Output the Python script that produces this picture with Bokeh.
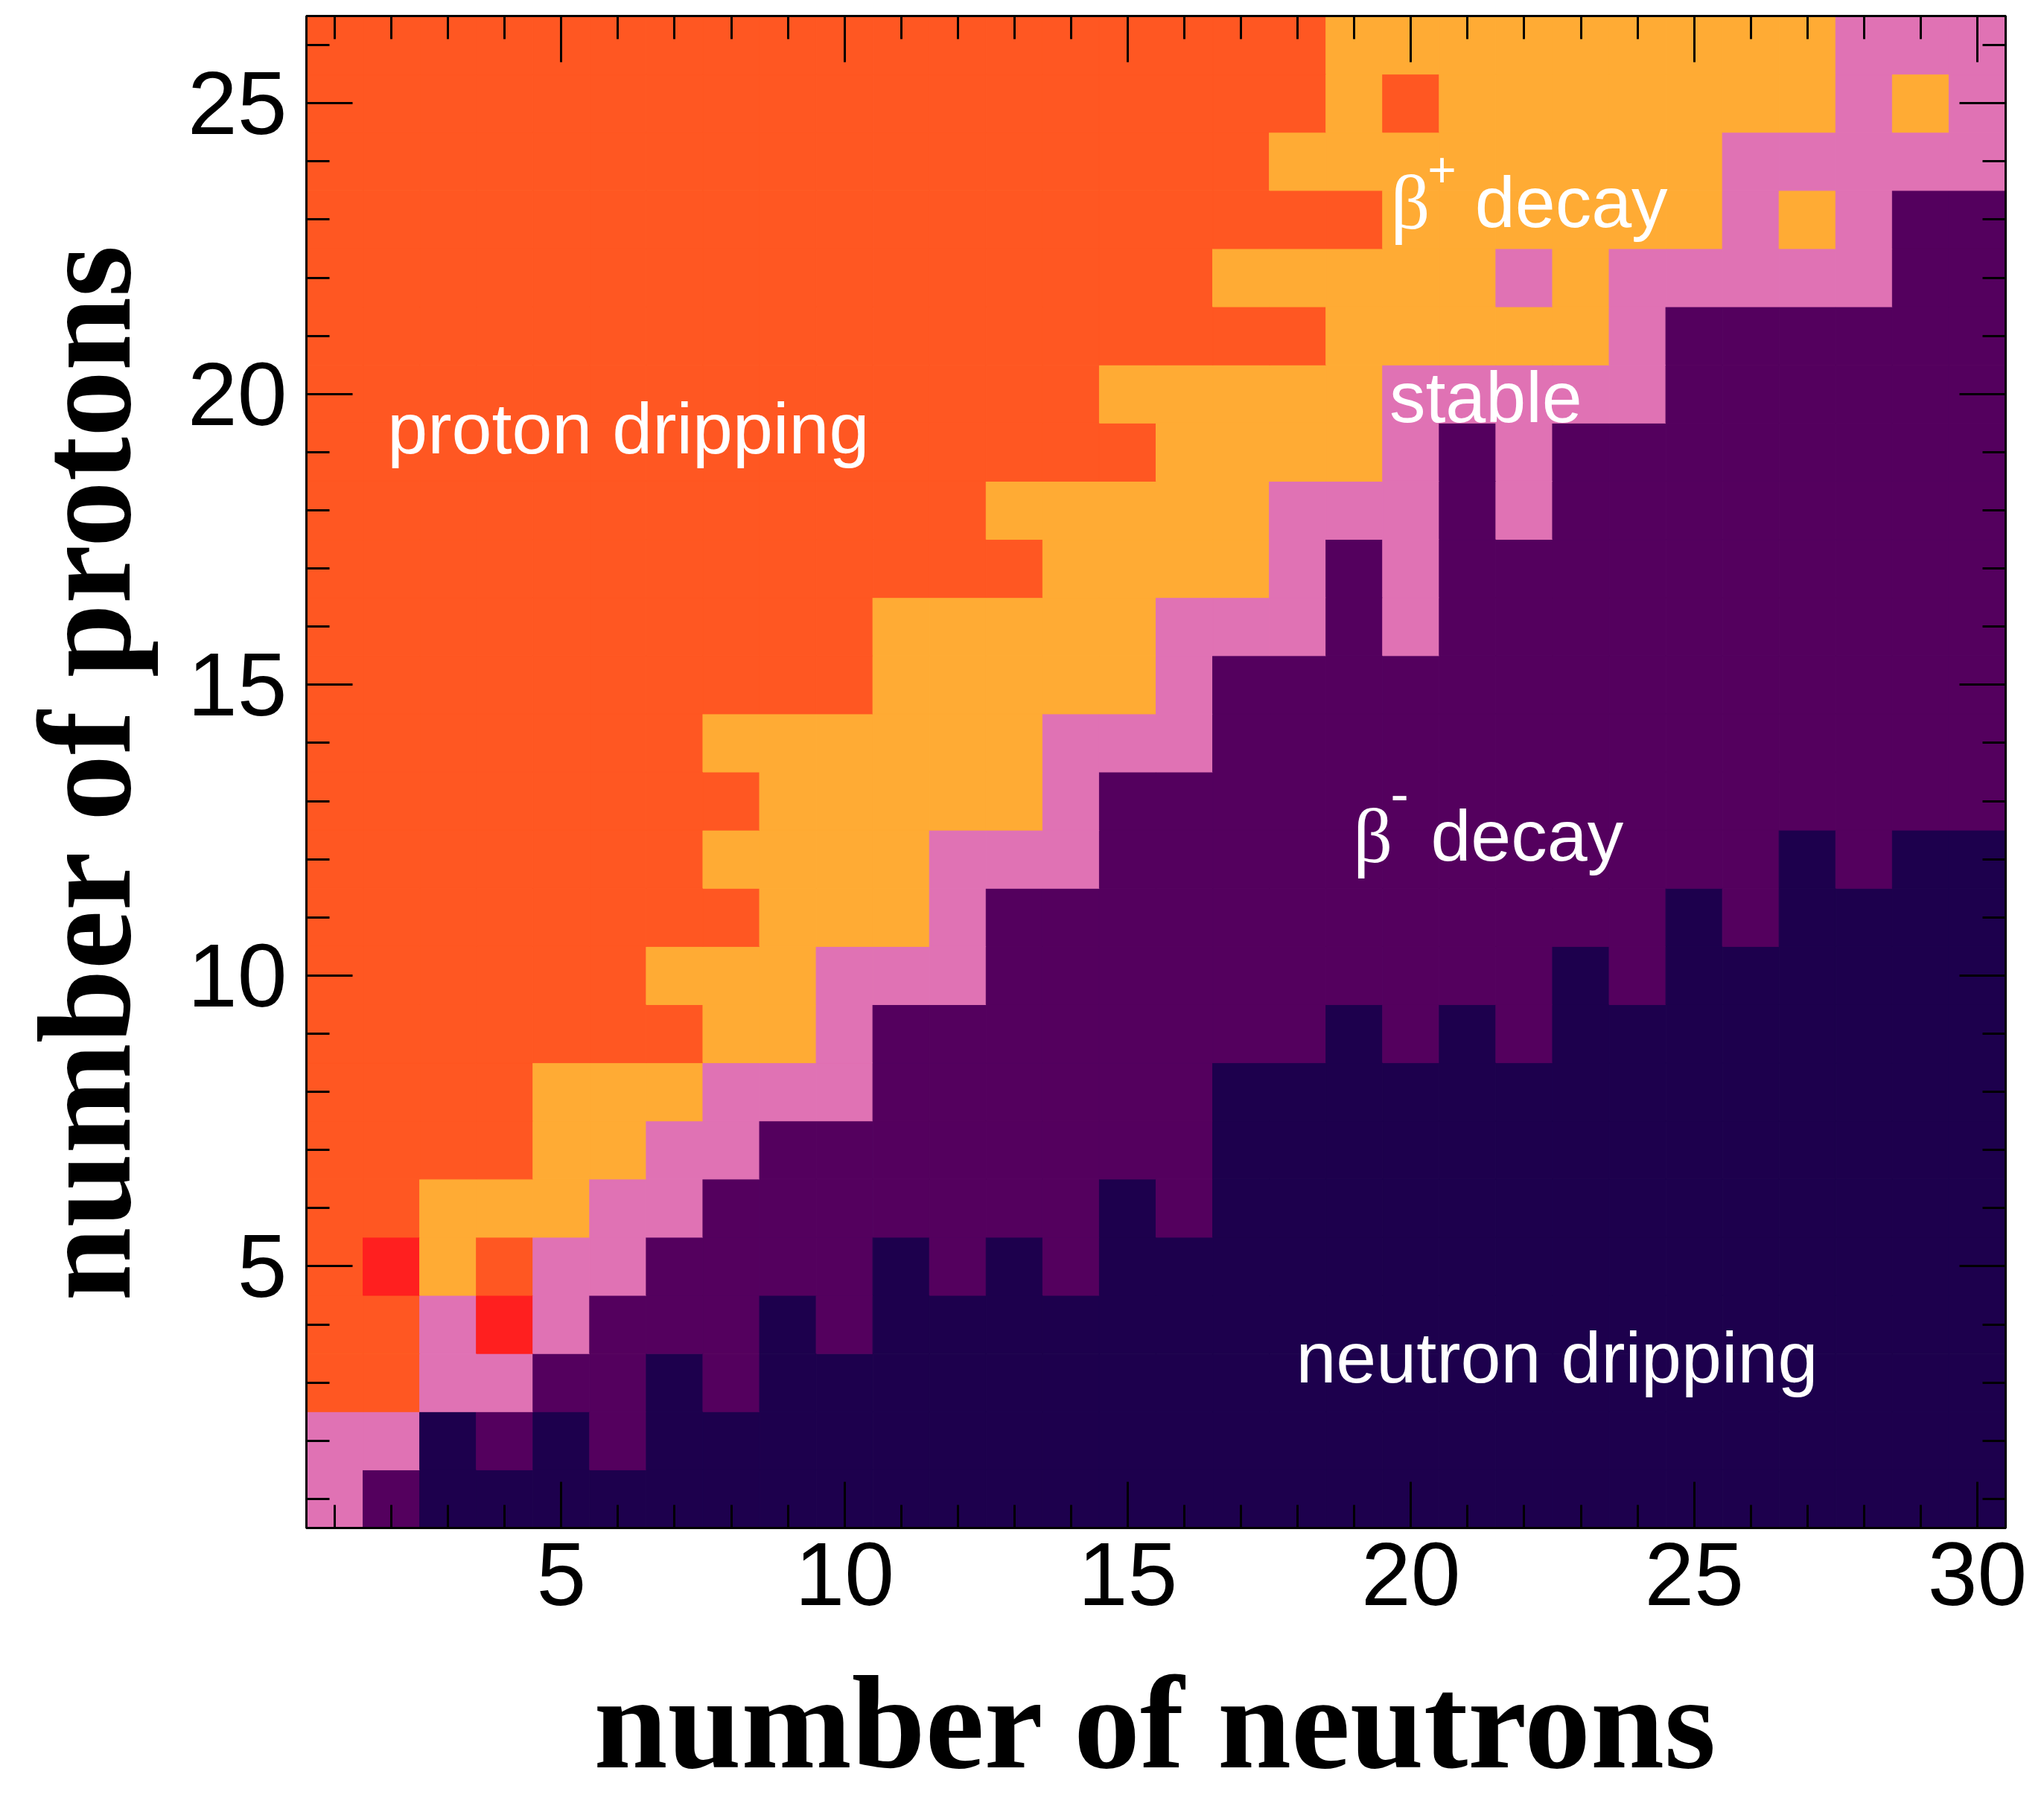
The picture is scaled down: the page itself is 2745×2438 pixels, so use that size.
from bokeh.plotting import figure
from bokeh.models import (ColumnDataSource, LinearAxis, SingleIntervalTicker, Range1d,
                          CustomJSTickFormatter, Label)
from bokeh.embed import file_html
from bokeh.resources import INLINE

# ---------------- data ----------------
neutron_numbers = list(range(1, 31))   # x: number of neutrons
proton_numbers = list(range(1, 27))    # y: number of protons

# decay class of each nucleus, one string per proton number (Z = 1 first),
# one letter per neutron number (N = 1 ... 30)
# N = neutron dripping, M = beta- decay, S = stable, P = beta+ decay,
# D = proton dripping, A = other (red cells)
cell_rows = [
    "SMNNNNNNNNNNNNNNNNNNNNNNNNNNNN",  # Z = 1
    "SSNMNMNNNNNNNNNNNNNNNNNNNNNNNN",  # Z = 2
    "DDSSMMNMNNNNNNNNNNNNNNNNNNNNNN",  # Z = 3
    "DDSASMMMNMNNNNNNNNNNNNNNNNNNNN",  # Z = 4
    "DAPDSSMMMMNMNMNNNNNNNNNNNNNNNN",  # Z = 5
    "DDPPPSSMMMMMMMNMNNNNNNNNNNNNNN",  # Z = 6
    "DDDDPPSSMMMMMMMMNNNNNNNNNNNNNN",  # Z = 7
    "DDDDPPPSSSMMMMMMNNNNNNNNNNNNNN",  # Z = 8
    "DDDDDDDPPSMMMMMMMMNMNMNNNNNNNN",  # Z = 9
    "DDDDDDPPPSSSMMMMMMMMMMNMNNNNNN",  # Z = 10
    "DDDDDDDDPPPSMMMMMMMMMMMMNMNNNN",  # Z = 11
    "DDDDDDDPPPPSSSMMMMMMMMMMMMNMNN",  # Z = 12
    "DDDDDDDDPPPPPSMMMMMMMMMMMMMMMM",  # Z = 13
    "DDDDDDDPPPPPPSSSMMMMMMMMMMMMMM",  # Z = 14
    "DDDDDDDDDDPPPPPSMMMMMMMMMMMMMM",  # Z = 15
    "DDDDDDDDDDPPPPPSSSMSMMMMMMMMMM",  # Z = 16
    "DDDDDDDDDDDDDPPPPSMSMMMMMMMMMM",  # Z = 17
    "DDDDDDDDDDDDPPPPPSSSMSMMMMMMMM",  # Z = 18
    "DDDDDDDDDDDDDDDPPPPSMSMMMMMMMM",  # Z = 19
    "DDDDDDDDDDDDDDPPPPPSSSSSMMMMMM",  # Z = 20
    "DDDDDDDDDDDDDDDDDDPPPPPSMMMMMM",  # Z = 21
    "DDDDDDDDDDDDDDDDPPPPPSPSSSSSMM",  # Z = 22
    "DDDDDDDDDDDDDDDDDDDPPPPPPSPSMM",  # Z = 23
    "DDDDDDDDDDDDDDDDDPPPPPPPPSSSSS",  # Z = 24
    "DDDDDDDDDDDDDDDDDDPDPPPPPPPSPS",  # Z = 25
    "DDDDDDDDDDDDDDDDDDPPPPPPPPPSSS",  # Z = 26
]

class_names = {"N": "neutron dripping", "M": "beta- decay", "S": "stable",
               "P": "beta+ decay", "D": "proton dripping", "A": "other"}
class_colors = {"N": "#1d004d", "M": "#54005e", "S": "#e072b4",
                "P": "#ffab34", "D": "#ff5722", "A": "#ff1f1f"}

# ---------------- build table ----------------
xs, ys, cols, names = [], [], [], []
for z, row in zip(proton_numbers, cell_rows):
    for n, code in zip(neutron_numbers, row):
        xs.append(n)
        ys.append(z)
        cols.append(class_colors[code])
        names.append(class_names[code])
src = ColumnDataSource(dict(n=xs, z=ys, color=cols, name=names))

SANS = "Liberation Sans"
SERIF = "Liberation Serif"

fig = figure(x_range=Range1d(0.5, 30.5), y_range=Range1d(0.5, 26.5),
             frame_width=2282, frame_height=2031,
             min_border_left=411, min_border_right=36,
             min_border_top=21, min_border_bottom=370,
             output_backend="svg", toolbar_location=None,
             background_fill_color="white", border_fill_color="white")
fig.xgrid.grid_line_color = None
fig.ygrid.grid_line_color = None
fig.outline_line_color = "black"
fig.outline_line_width = 3

fig.rect(x="n", y="z", width=1, height=1, source=src,
         fill_color="color", line_color="color", line_width=1)


def style_axis(ax, labels):
    ax.ticker = SingleIntervalTicker(interval=5, num_minor_ticks=5)
    ax.major_tick_in = 62
    ax.major_tick_out = 0
    ax.minor_tick_in = 31
    ax.minor_tick_out = 0
    ax.major_tick_line_width = 3
    ax.minor_tick_line_width = 3
    ax.major_tick_line_color = "black"
    ax.minor_tick_line_color = "black"
    ax.axis_line_width = 3
    ax.axis_line_color = "black"
    if labels:
        ax.major_label_text_font = SANS
        ax.major_label_text_font_size = "120px"
        ax.major_label_text_color = "black"
    else:
        ax.formatter = CustomJSTickFormatter(code="return ''")
        ax.major_label_text_font_size = "0px"
        ax.major_label_standoff = 0


xax = fig.xaxis[0]
yax = fig.yaxis[0]
style_axis(xax, True)
style_axis(yax, True)
xax.major_label_standoff = 20
yax.major_label_standoff = 26
xax.axis_label = "number of neutrons"
yax.axis_label = "number of protons"
for ax in (xax, yax):
    ax.axis_label_text_font = SERIF
    ax.axis_label_text_font_style = "bold"
    ax.axis_label_text_font_size = "178px"
    ax.axis_label_text_color = "black"
xax.axis_label_standoff = 56
yax.axis_label_standoff = 36

top_ax = LinearAxis()
right_ax = LinearAxis()
style_axis(top_ax, False)
style_axis(right_ax, False)
fig.add_layout(top_ax, "above")
fig.add_layout(right_ax, "right")

# ---------------- annotations ----------------
BASELINE_FIX = 29 / 78.12   # alphabetic anchor correction (data units)


def add_text(x, y, text, font, size, baseline="alphabetic", align="left"):
    if baseline == "alphabetic":
        y = y + BASELINE_FIX
    fig.add_layout(Label(x=x, y=y, text=text, text_font=font, text_font_size=size,
                         text_color="white", text_baseline=baseline, text_align=align))


add_text(1.93, 19.04, "proton dripping", SANS, "97px")
add_text(17.97, 3.06, "neutron dripping", SANS, "97px")
add_text(19.62, 19.57, "stable", SANS, "97px")
# beta+ decay
add_text(19.64, 22.93, "β", SERIF, "104px")
add_text(20.55, 23.86, "+", SANS, "66px", baseline="middle", align="center")
add_text(21.13, 22.93, "decay", SANS, "97px")
# beta- decay
add_text(18.98, 12.03, "β", SERIF, "104px")
add_text(19.80, 13.12, "-", SANS, "74px", baseline="middle", align="center")
add_text(20.35, 12.03, "decay", SANS, "97px")

open("out.html", "w").write(file_html(fig, INLINE))
